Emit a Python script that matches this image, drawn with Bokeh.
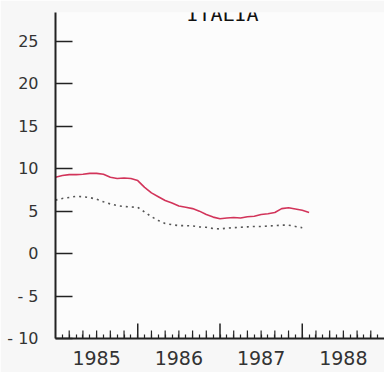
from bokeh.plotting import figure
from bokeh.models import Range1d, FixedTicker, Label
from bokeh.embed import file_html
from bokeh.resources import INLINE

# ---- data (monthly, starting January 1985) ----
start_year = 1985
red_values = [9.0, 9.2, 9.3, 9.3, 9.35, 9.45, 9.45, 9.35, 9.0, 8.85, 8.9, 8.85,
              8.6, 7.8, 7.15, 6.7, 6.25, 5.95, 5.6, 5.45, 5.3, 5.0, 4.6, 4.3,
              4.1, 4.2, 4.25, 4.2, 4.35, 4.4, 4.6, 4.7, 4.85, 5.3, 5.4, 5.25,
              5.1, 4.85]
dotted_values = [6.3, 6.5, 6.6, 6.75, 6.7, 6.6, 6.4, 6.1, 5.85, 5.65, 5.55, 5.5,
                 5.45, 4.9, 4.35, 3.9, 3.55, 3.4, 3.3, 3.3, 3.25, 3.15, 3.1, 2.95,
                 2.9, 3.0, 3.05, 3.1, 3.15, 3.2, 3.2, 3.25, 3.3, 3.35, 3.35, 3.2,
                 3.05]
year_labels = ["1985", "1986", "1987", "1988"]
y_ticks = [-10, -5, 0, 5, 10, 15, 20, 25]
title_text = "ITALIA"

red_x = [start_year + i / 12 for i in range(len(red_values))]
dot_x = [start_year + i / 12 for i in range(len(dotted_values))]
year_starts = [int(y) for y in year_labels]
year_mids = [y + 0.5 for y in year_starts]
months = [start_year + i / 12 for i in range(1, 12 * len(year_labels))]
boundary_months = [y for y in year_starts[1:]]
medium_months = [m for i, m in enumerate(months, start=1) if i % 12 != 0 and i % 2 == 0]

y_min, y_max = -10, 28.4
W, H = 384, 372
BL, BT, BB = 55, 12, 34
frame_h = H - BT - BB

p = figure(width=W, height=H, output_backend="svg", toolbar_location=None,
           x_range=Range1d(start_year, start_year + len(year_labels)),
           y_range=Range1d(y_min, y_max))
p.min_border_left = BL
p.min_border_right = 0
p.min_border_top = BT
p.min_border_bottom = BB
p.outline_line_color = None
p.background_fill_color = "#fcfcfc"
p.border_fill_color = "#f7f7f7"
p.xgrid.visible = False
p.ygrid.visible = False

# y axis
ya = p.yaxis[0]
ya.ticker = FixedTicker(ticks=y_ticks)
ya.major_label_overrides = {-10: "- 10", -5: "- 5"}
ya.axis_line_color = "#222222"
ya.axis_line_width = 2
ya.major_tick_in = 17
ya.major_tick_out = 0
ya.major_tick_line_color = "#222222"
ya.major_tick_line_width = 1.5
ya.minor_tick_line_color = None
ya.major_label_standoff = 17
ya.major_label_text_font = "DejaVu Sans"
ya.major_label_text_font_size = "16px"
ya.major_label_text_color = "#333333"
ya.major_label_text_baseline = "alphabetic"

# x axis
xa = p.xaxis[0]
xa.ticker = FixedTicker(ticks=year_mids, minor_ticks=months)
xa.major_label_overrides = {m: lab for m, lab in zip(year_mids, year_labels)}
xa.axis_line_color = "#222222"
xa.axis_line_width = 2
xa.major_tick_line_color = None
xa.major_tick_in = 0
xa.major_tick_out = 0
xa.minor_tick_in = 4
xa.minor_tick_out = 0
xa.minor_tick_line_color = "#222222"
xa.minor_tick_line_width = 1.2
xa.major_label_standoff = 12
xa.major_label_text_font = "DejaVu Sans"
xa.major_label_text_font_size = "19px"
xa.major_label_text_color = "#333333"

# taller tick marks on the x axis (year boundaries and alternate months)
px_per_unit = frame_h / (y_max - y_min)
p.segment(x0=boundary_months, y0=[y_min] * len(boundary_months),
          x1=boundary_months, y1=[y_min + 15 / px_per_unit] * len(boundary_months),
          line_color="#222222", line_width=1.5)
p.segment(x0=medium_months, y0=[y_min] * len(medium_months),
          x1=medium_months, y1=[y_min + 8 / px_per_unit] * len(medium_months),
          line_color="#222222", line_width=1.2)

# series
p.line(red_x, red_values, line_color="#d2345a", line_width=1.6)
p.line(dot_x, dotted_values, line_color="#555555", line_width=1.6, line_dash="2 4")

# title at the very top (screen units are relative to the plot frame)
p.add_layout(Label(x=222 - BL, y=H - BB - 1, x_units="screen", y_units="screen",
                   text=title_text, text_font="DejaVu Sans Mono",
                   text_font_size="20px", text_align="center",
                   text_baseline="top", text_color="#111111"), "center")

open("out.html", "w").write(file_html(p, INLINE))
